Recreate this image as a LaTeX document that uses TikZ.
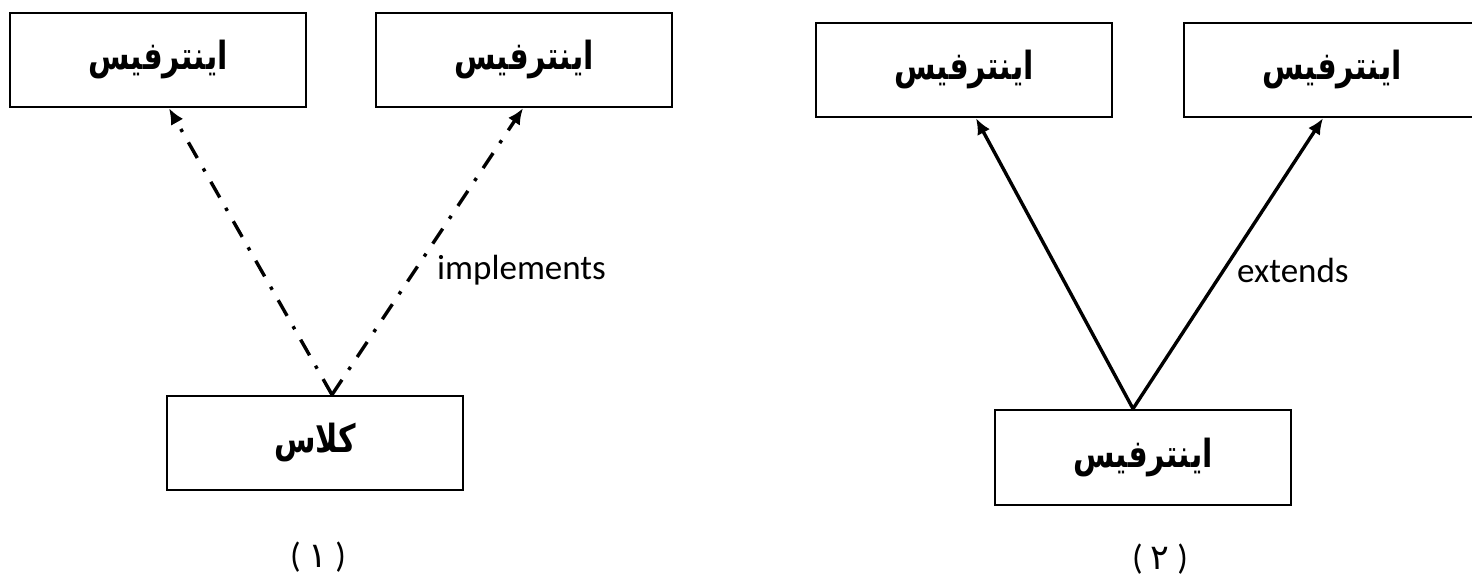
\documentclass[tikz,border=0pt]{standalone}
\usepackage{fontspec}
\setmainfont{Carlito}
\newfontfamily\arabicfont[Script=Arabic]{DejaVu Sans}
\TeXXeTstate=1
\usetikzlibrary{arrows.meta,calc}
\newcommand{\fa}[1]{\scalebox{0.97}[1.25]{\beginR #1\endR}}
\begin{document}
\begin{tikzpicture}[x=1pt,y=-1pt,
  box/.style={draw,line width=2.5pt,minimum width=296pt,minimum height=94pt,inner sep=0pt,
    font=\arabicfont\bfseries\fontsize{31}{36}\selectfont},
  impl/.style={line width=3.4pt,dash pattern=on 18pt off 12pt on 3.4pt off 12pt,
    -{Latex[length=16pt,width=14pt]}},
  ext/.style={line width=3.4pt,-{Latex[length=16pt,width=14pt]}},
  lbl/.style={font=\fontsize{35}{40}\selectfont,inner sep=0pt},
  figlabel/.style={font=\fontsize{35}{40}\selectfont,inner sep=0pt}
]
\useasboundingbox (0,0) rectangle (1472,579);
\clip (0,0) rectangle (1472,579);

% left diagram
\node[box] (i1) at (158,60) {\fa{اینترفیس}};
\node[box] (i2) at (524,60) {\fa{اینترفیس}};
\node[box] (cls) at (315,443) {\fa{کلاس}};
\coordinate (a1) at ($(cls.north)+(17,0)$);
\coordinate (t1) at ($(i1.south)+(11,0)$);
\coordinate (t2) at ($(i2.south)+(-1,0)$);
\draw[impl] (a1) -- (t1);
\draw[impl] (a1) -- (t2);
\node[lbl,anchor=west] (limpl) at (437,270) {implements};
\node[figlabel] (c1) at (318,557) {( {\arabicfont ۱} )};

% right diagram
\node[box] (i3) at (964,70) {\fa{اینترفیس}};
\node[box] (i4) at (1332,70) {\fa{اینترفیس}};
\node[box,minimum height=95pt] (i5) at (1143,457.5) {\fa{اینترفیس}};
\coordinate (a2) at ($(i5.north)+(-10,0)$);
\coordinate (t3) at ($(i3.south)+(12,0)$);
\coordinate (t4) at ($(i4.south)+(-9,0)$);
\draw[ext] (a2) -- (t3);
\draw[ext] (a2) -- (t4);
\node[lbl,anchor=west] (lext) at (1237,270) {extends};
\node[figlabel] (c2) at (1160,559) {( {\arabicfont ۲} )};
\end{tikzpicture}
\end{document}
